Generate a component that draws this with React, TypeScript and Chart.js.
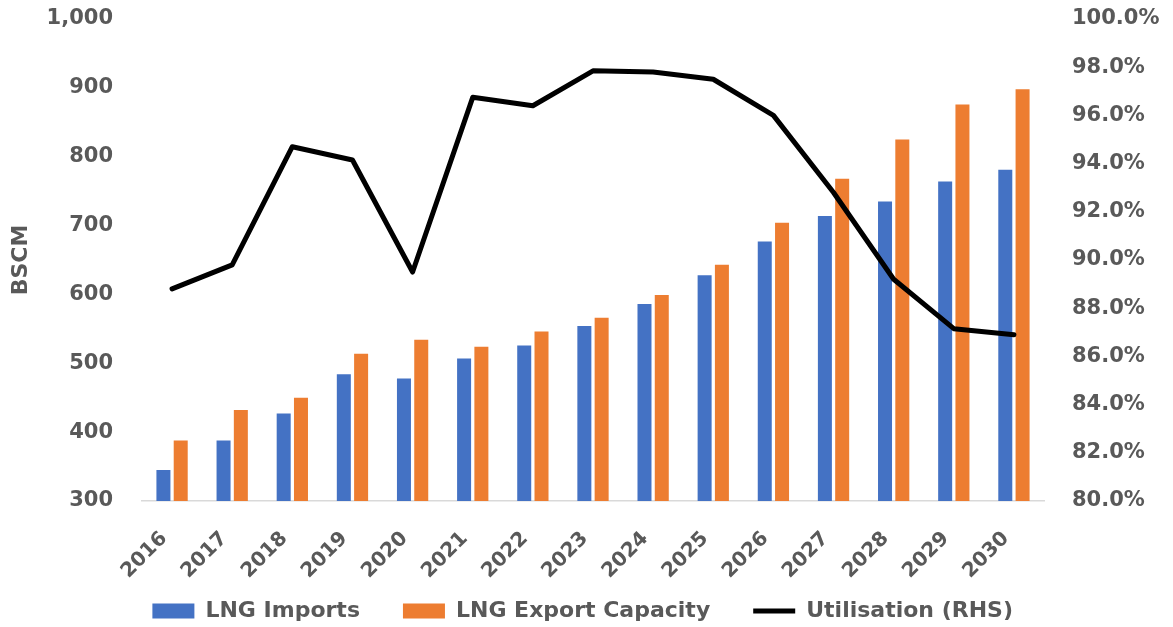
import React, { useEffect, useRef } from "react";
import { Chart, registerables } from "chart.js";

Chart.register(...registerables);

const years = ["2016", "2017", "2018", "2019", "2020", "2021", "2022", "2023", "2024", "2025", "2026", "2027", "2028", "2029", "2030"];
const lngImports = [345, 388, 427, 484, 478, 507, 526, 554, 586, 628, 677, 714, 735, 764, 781];
const exportCapacity = [388, 432, 450, 514, 534, 524, 546, 566, 599, 643, 704, 768, 825, 876, 898];
const utilisation = [88.8, 89.8, 94.7, 94.15, 89.5, 96.75, 96.4, 97.85, 97.8, 97.5, 96.0, 92.8, 89.2, 87.15, 86.9];

const FONT = "'DejaVu Sans', Verdana, sans-serif";
const GREY = "#595959";

export default function App() {
  const ref = useRef<HTMLCanvasElement | null>(null);

  useEffect(() => {
    document.body.style.margin = "0";
    document.body.style.overflow = "hidden";
    const canvas = ref.current;
    if (!canvas) return;
    const chart = new Chart(canvas, {
      type: "bar",
      data: {
        labels: years,
        datasets: [
          {
            type: "bar",
            label: "LNG Imports",
            data: lngImports,
            backgroundColor: "#4472C4",
            borderWidth: 0,
            pointStyle: "rect",
            yAxisID: "y",
            order: 1,
            categoryPercentage: 0.575,
            barPercentage: 0.81,
          },
          {
            type: "bar",
            label: "LNG Export Capacity",
            data: exportCapacity,
            backgroundColor: "#ED7D31",
            borderWidth: 0,
            pointStyle: "rect",
            yAxisID: "y",
            order: 2,
            categoryPercentage: 0.575,
            barPercentage: 0.81,
          },
          {
            type: "line",
            label: "Utilisation (RHS)",
            data: utilisation,
            borderColor: "#000000",
            backgroundColor: "#000000",
            borderWidth: 5,
            pointRadius: 0,
            pointStyle: "line",
            borderCapStyle: "round",
            borderJoinStyle: "round",
            yAxisID: "y1",
            order: 0,
          },
        ],
      } as any,
      options: {
        responsive: false,
        animation: false,
        layout: { autoPadding: false, padding: { top: 19, left: 0, right: 0, bottom: 0 } },
        plugins: {
          tooltip: { enabled: false },
          legend: {
            position: "bottom",
            labels: {
              usePointStyle: true,
              pointStyleWidth: 42,
              boxHeight: 15,
              padding: 20,
              color: GREY,
              font: { family: FONT, size: 22, weight: "bold" },
              sort: (a: any, b: any) => a.datasetIndex - b.datasetIndex,
              generateLabels: (c: any) => {
                const items = Chart.defaults.plugins.legend.labels.generateLabels(c);
                items.forEach((it: any) => {
                  it.text = it.datasetIndex !== 2 ? it.text + "   " : it.text + " ";
                });
                return items;
              },
            },
          },
        },
        scales: {
          x: {
            grid: { display: false, drawTicks: false },
            border: { display: true, color: "#D9D9D9", width: 1.5 },
            ticks: {
              minRotation: 45,
              maxRotation: 45,
              padding: 26,
              labelOffset: -8,
              color: GREY,
              font: { family: FONT, size: 20, weight: "bold" },
            },
            afterFit: (s: any) => {
              s.height = 79;
              s.paddingLeft = 0;
              s.paddingRight = 0;
            },
          },
          y: {
            position: "left",
            min: 300,
            max: 1000,
            grid: { display: false, drawTicks: false },
            border: { display: false },
            ticks: {
              stepSize: 100,
              padding: 29,
              color: GREY,
              font: { family: FONT, size: 21, weight: "bold" },
              callback: (v: any) => Number(v).toLocaleString("en-US"),
            },
            title: {
              display: true,
              text: "BSCM",
              color: GREY,
              padding: { top: 8, bottom: 0 },
              font: { family: FONT, size: 22, weight: "bold" },
            },
            afterFit: (s: any) => {
              s.width = 142;
              s.paddingTop = 0;
              s.paddingBottom = 0;
            },
          },
          y1: {
            position: "right",
            min: 80,
            max: 100,
            grid: { display: false, drawTicks: false },
            border: { display: false },
            ticks: {
              stepSize: 2,
              padding: 28,
              color: GREY,
              font: { family: FONT, size: 21, weight: "bold" },
              callback: (v: any) => Number(v).toFixed(1) + "%",
            },
            afterFit: (s: any) => {
              s.width = 129;
              s.paddingTop = 0;
              s.paddingBottom = 0;
            },
          },
        },
      } as any,
    });
    return () => chart.destroy();
  }, []);

  return (
    <div style={{ position: "fixed", left: 0, top: 0, width: 1173, height: 632, background: "#fff" }}>
      <canvas ref={ref} width={1173} height={632} style={{ display: "block", width: 1173, height: 632 }} />
    </div>
  );
}
